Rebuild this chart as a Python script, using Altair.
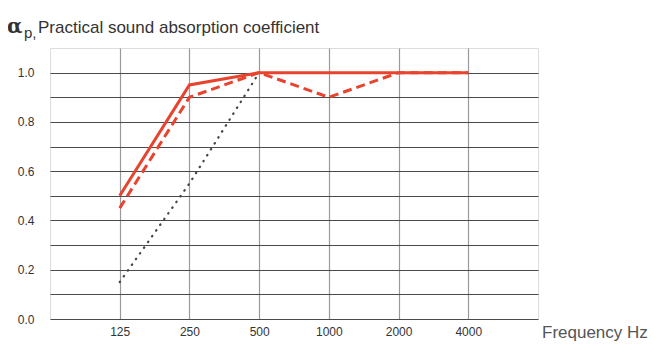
import altair as alt
import pandas as pd

freq_labels = ["125", "250", "500", "1000", "2000", "4000"]
solid_vals = [0.50, 0.95, 1.0, 1.0, 1.0, 1.0]
dashed_vals = [0.45, 0.90, 1.0, 0.90, 1.0, 1.0]
dotted_freqs = ["125", "250", "500"]
dotted_vals = [0.15, 0.55, 1.0]
y_grid = [0.0, 0.1, 0.2, 0.3, 0.4, 0.5, 0.6, 0.7, 0.8, 0.9, 1.0]

RED = "#e8432e"
FONT = "Liberation Sans"

def frame(labels, vals, name):
    return pd.DataFrame({
        "idx": [freq_labels.index(l) + 1 for l in labels],
        "freq": labels,
        "value": vals,
        "series": name,
    })

solid = frame(freq_labels, solid_vals, "solid")
dashed = frame(freq_labels, dashed_vals, "dashed")
dotted = frame(dotted_freqs, dotted_vals, "dotted")

x_label_expr = "{" + ",".join(f"'{i+1}':'{l}'" for i, l in enumerate(freq_labels)) + "}[datum.value]"

x = alt.X("idx:Q", scale=alt.Scale(domain=[0, 7], nice=False),
          axis=alt.Axis(values=list(range(1, 7)), labelExpr=x_label_expr,
                        title=None, grid=True, gridColor="#9a9a9a", gridWidth=1.2,
                        ticks=False, domain=False, labelFont=FONT, labelFontSize=12,
                        labelColor="#333333", labelPadding=7))
y = alt.Y("value:Q", scale=alt.Scale(domain=[0, 1.1], nice=False),
          axis=alt.Axis(values=y_grid,
                        labelExpr="round(datum.value*10) % 2 == 0 ? format(datum.value, '.1f') : ''",
                        title=None, grid=True, gridColor="#4a4a4a", gridWidth=1,
                        ticks=False, domain=False, labelFont=FONT,
                        labelFontSize=12, labelColor="#333333", labelPadding=16))

base_solid = alt.Chart(solid).mark_line(color=RED, strokeWidth=3).encode(x=x, y=y)
base_dashed = alt.Chart(dashed).mark_line(color=RED, strokeWidth=3, strokeDash=[9, 5]).encode(x=x, y=y)
base_dotted = alt.Chart(dotted).mark_line(color="#444444", strokeWidth=2.2, strokeDash=[0.5, 6.5], strokeCap="round").encode(x=x, y=y)

title_alpha = alt.Chart(pd.DataFrame({"t": ["α"]})).mark_text(
    align="left", baseline="alphabetic", font="DejaVu Serif", fontSize=20, fontWeight="bold", color="#333333"
).encode(x=alt.value(-43), y=alt.value(-15), text="t:N")
title_p = alt.Chart(pd.DataFrame({"t": ["p,"]})).mark_text(
    align="left", baseline="alphabetic", font=FONT, fontSize=15, color="#333333"
).encode(x=alt.value(-26), y=alt.value(-10), text="t:N")
title_main = alt.Chart(pd.DataFrame({"t": ["Practical sound absorption coefficient"]})).mark_text(
    align="left", baseline="alphabetic", font=FONT, fontSize=17, color="#333333"
).encode(x=alt.value(-12), y=alt.value(-15), text="t:N")
xtitle = alt.Chart(pd.DataFrame({"t": ["Frequency Hz"]})).mark_text(
    align="left", baseline="alphabetic", font=FONT, fontSize=17, color="#555555"
).encode(x=alt.value(492), y=alt.value(290), text="t:N")

chart = alt.layer(base_dotted, base_dashed, base_solid, title_alpha, title_p, title_main, xtitle).properties(
    width=488, height=271,
    autosize=alt.AutoSizeParams(type="none"),
    padding={"left": 42, "top": 40, "right": 125, "bottom": 36},
).configure_view(stroke="#222222", strokeWidth=1.5).configure(background="white")

chart.save("out.html", embed_options={"renderer": "svg", "actions": False})
